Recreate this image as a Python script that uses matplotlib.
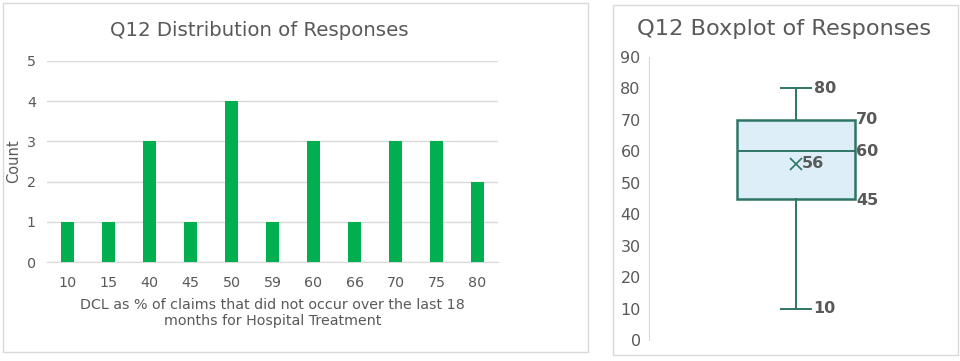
import matplotlib
matplotlib.use("Agg")
import matplotlib.pyplot as plt
import numpy as np
from matplotlib.patches import Rectangle

categories = ["10", "15", "40", "45", "50", "59", "60", "66", "70", "75", "80"]
counts = [1, 1, 3, 1, 4, 1, 3, 1, 3, 3, 2]
values = [10, 15, 40, 45, 50, 59, 60, 66, 70, 75, 80]

TXT = "#595959"
GRID = "#D9D9D9"
GREEN = "#00B050"
BOXEDGE = "#2F7565"
BOXFILL = "#DDEEF8"

plt.rcParams['font.family'] = ['DejaVu Sans']

fig = plt.figure(figsize=(9.6, 3.61), dpi=100)
W, H = 960, 361

def px(x0, y0, x1, y1):
    return [x0 / W, 1 - y1 / H, (x1 - x0) / W, (y1 - y0) / H]

# panel borders
for (x0, y0, x1, y1) in [(3, 3, 588, 352), (613, 5, 958, 355)]:
    fig.patches.append(Rectangle((x0 / W, 1 - y1 / H), (x1 - x0) / W, (y1 - y0) / H,
                                 transform=fig.transFigure, fill=False,
                                 edgecolor="#D9D9D9", lw=1.0))

# ---- left bar chart ----
ax = fig.add_axes(px(47, 61, 498, 262))
x = np.arange(len(categories))
ax.bar(x, counts, width=0.32, color=GREEN, zorder=3)
ax.set_xlim(-0.5, len(categories) - 0.5)
ax.set_ylim(0, 5)
ax.set_yticks(range(0, 6))
ax.yaxis.grid(True, color=GRID, lw=1.0, zorder=0)
ax.set_xticks(x)
ax.set_xticklabels(categories)
for s in ax.spines.values():
    s.set_visible(False)
ax.spines['bottom'].set_visible(True)
ax.spines['bottom'].set_color(GRID)
ax.tick_params(length=0, colors=TXT, labelsize=10.3)
ax.tick_params(axis='y', pad=8)
ax.tick_params(axis='x', pad=10)
ax.set_ylabel("Count", color=TXT, fontsize=10.5)
ax.yaxis.set_label_coords((21 - 47) / 451, 0.5)
ax.set_xlabel("DCL as % of claims that did not occur over the last 18\nmonths for Hospital Treatment",
              color=TXT, fontsize=10.3, labelpad=6, linespacing=1.2)
fig.text(259 / W, 1 - 30 / H, "Q12 Distribution of Responses", ha="center", va="center",
         fontsize=14.2, color=TXT)

# ---- right boxplot ----
data = np.repeat(values, counts)
q1, med, q3 = np.percentile(data, [25, 50, 75], method="weibull")
stats = [dict(whislo=data.min(), q1=q1, med=med, q3=q3, whishi=data.max(),
              mean=data.mean(), fliers=[])]
bx = fig.add_axes(px(649, 57, 943, 340))
bx.bxp(stats, positions=[1], widths=0.40, capwidths=0.10, showmeans=True, patch_artist=True,
       boxprops=dict(facecolor=BOXFILL, edgecolor=BOXEDGE, lw=1.8),
       medianprops=dict(color=BOXEDGE, lw=1.4),
       whiskerprops=dict(color=BOXEDGE, lw=1.4),
       capprops=dict(color=BOXEDGE, lw=1.4),
       meanprops=dict(marker="x", markeredgecolor=BOXEDGE, markersize=8, markeredgewidth=1.2))
bx.set_xlim(0.5, 1.5)
bx.set_ylim(0, 90)
bx.set_yticks(range(0, 91, 10))
bx.set_xticks([])
for s in bx.spines.values():
    s.set_visible(False)
bx.spines['left'].set_visible(True)
bx.spines['left'].set_color(GRID)
bx.tick_params(length=0, colors=TXT, labelsize=11.5, pad=6)

lab = dict(color=TXT, fontsize=11.5, fontweight="bold", va="center", ha="left")
bx.text(1 + 0.06, stats[0]['whishi'], f"{stats[0]['whishi']:.0f}", **lab)
bx.text(1 + 0.06, stats[0]['whislo'], f"{stats[0]['whislo']:.0f}", **lab)
bx.text(1.205, q3, f"{q3:.0f}", **lab)
bx.text(1.205, med, f"{med:.0f}", **lab)
bx.text(1.205, q1 - 0.5, f"{q1:.0f}", **lab)
bx.text(1.02, stats[0]['mean'], f"{stats[0]['mean']:.0f}", **lab)
fig.text(784 / W, 1 - 29 / H, "Q12 Boxplot of Responses", ha="center", va="center",
         fontsize=16.2, color=TXT)

fig.savefig("out.png", dpi=100)
